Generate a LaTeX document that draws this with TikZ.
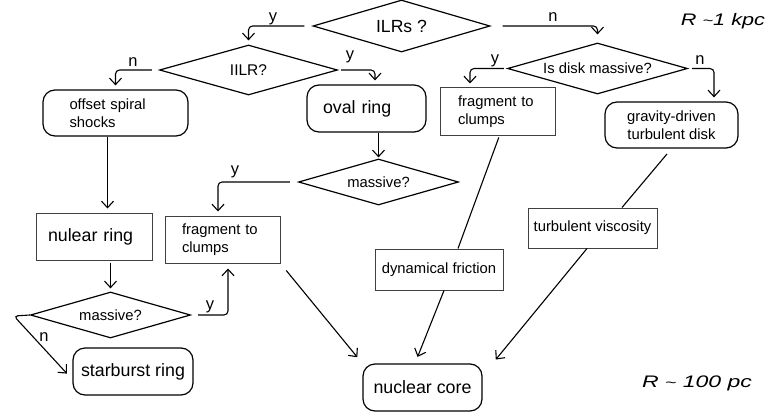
\documentclass[tikz,border=0pt]{standalone}
\usepackage{fontspec}
\setmainfont{Liberation Sans}
\usetikzlibrary{shapes.geometric,arrows.meta,calc}
\begin{document}
\begin{tikzpicture}[x=1pt,y=-1pt,
  line width=1.1pt,
  sm/.style={font=\fontsize{14.8}{17.5}\selectfont},
  bg/.style={font=\fontsize{17.8}{20}\selectfont},
  yn/.style={font=\fontsize{16.5}{18}\selectfont, inner sep=0},
  rl/.style={font=\fontsize{16.7}{18}\selectfont\itshape, inner sep=0},
  dia/.style={diamond, aspect=3.5, draw, inner sep=0, line width=1.2pt},
  rbox/.style={draw, rounded corners=12pt, inner sep=0, line width=1.2pt},
  sbox/.style={draw=black!75, inner sep=0, line width=1pt},
  arr/.style={-{Straight Barb[length=6.5pt,width=12pt]}, shorten >=4pt},
  br/.style={rounded corners=4pt},
]
\useasboundingbox (0,0) rectangle (770,417);

% decisions
\node[dia, minimum width=177pt, minimum height=52pt, font=\fontsize{17.6}{20}\selectfont] (ilrs) at (401.5,26) {ILRs ?};
\node[dia, minimum width=178pt, minimum height=50pt, font=\fontsize{15.5}{18}\selectfont] (iilr) at (248.5,70) {IILR?};
\node[dia, sm, minimum width=180pt, minimum height=51pt] (disk) at (597.5,68.5) {Is disk massive?};
\node[dia, sm, minimum width=160pt, minimum height=46pt] (mass1) at (378.5,182) {massive?};
\node[dia, sm, minimum width=160pt, minimum height=46pt] (mass2) at (110.5,315) {massive?};

% boxes
\node[rbox, sm, minimum width=145pt, minimum height=46pt, text width=92pt, align=left] (offset) at (115.5,113) {offset spiral\\shocks};
\node[rbox, bg, minimum width=119pt, minimum height=47pt, text width=87pt, align=left] (oval) at (366.5,108.5) {oval ring};
\node[sbox, sm, minimum width=115pt, minimum height=47pt, text width=79pt, align=left] (frag2) at (497.5,111.5) {fragment to\\clumps};
\node[rbox, sm, minimum width=133pt, minimum height=46pt, align=center] (grav) at (671.5,125) {gravity-driven\\turbulent disk};
\node[sbox, sm, minimum width=115pt, minimum height=47pt, text width=81pt, align=left] (frag1) at (222.5,239.5) {fragment to\\clumps};
\node[sbox, bg, minimum width=116pt, minimum height=47pt, text width=92pt, align=left] (nulear) at (94,236.5) {nulear ring};
\node[sbox, sm, minimum width=128pt, minimum height=41pt] (dyn) at (439,269.5) {dynamical friction};
\node[sbox, sm, minimum width=129pt, minimum height=40pt] (turb) at (592.5,228) {turbulent viscosity};
\node[rbox, bg, minimum width=120pt, minimum height=47pt] (star) at (133,371.5) {starburst ring};
\node[rbox, bg, minimum width=119pt, minimum height=47pt] (core) at (422.5,387.5) {nuclear core};

% scale labels
\node[rl] (r1) at (723,21) {\scalebox{1.3}[1]{R {\fontsize{14}{14}\selectfont\textasciitilde}1 kpc}};
\node[rl] (r2) at (697,383) {\scalebox{1.38}[1]{R {\fontsize{14}{14}\selectfont\textasciitilde} 100 pc}};

% connectors
\draw[arr, br, shorten <=8pt] (ilrs.west) -| (iilr.north);
\draw[arr, br, shorten <=12pt, shorten >=8pt] (ilrs.east) -| (disk.north);
\draw[arr, br, shorten <=7pt] (iilr.west) -| (offset.north);
\draw[arr, br, shorten <=3pt] (iilr.east) -| ($(oval.north)+(8.5,0)$);
\draw[arr, br, shorten <=3pt] (disk.west) -| ($(frag2.north)+(-27.5,0)$);
\draw[arr, br, shorten <=4pt] (disk.east) -| ($(grav.north)+(42.5,0)$);
\draw[arr, shorten >=1pt] (mass1.north |- oval.south) -- (mass1.north);
\draw[arr, br, shorten <=8pt] (mass1.west) -| ($(frag1.north)+(-4.5,0)$);
\coordinate (c1) at ($(offset.south)+(-8,0)$);
\draw[arr] (c1) -- (c1 |- nulear.north);
\draw[arr, shorten <=2pt, shorten >=3pt] (mass2.north |- nulear.south) -- (mass2.north);
\draw[arr, br, shorten <=7pt, shorten >=5pt] (mass2.east) -| ($(frag1.south)+(5.5,0)$);
\draw[arr, rounded corners=4pt, shorten >=8pt] (mass2.west) -- ($(mass2.west)+(-16,1)$) -- ($(star.west)+(0,8)$);
\draw[arr, shorten <=9pt, shorten >=8pt] (frag1.south east) -- (core.north west);
\draw[shorten <=2pt] ($(frag2.south)+(2,0)$) -- ($(dyn.north)+(19,0)$);
\draw[arr, shorten >=7pt] ($(dyn.south)+(5,0)$) -- ($(core.north)+(-7.5,0)$);
\draw[shorten <=7pt] (grav.south) -- ($(turb.north)+(29.5,0)$);
\draw[arr, shorten >=5pt] ($(turb.south)+(-5.5,0)$) -- ($(core.north east)+(10,0)$);

% branch labels
\node[yn] (ly1) at (273,19) {y};
\node[yn] (ln1) at (553,17.5) {n};
\node[yn] (ln2) at (133,62) {n};
\node[yn] (ly2) at (350,57) {y};
\node[yn] (ly3) at (495,61) {y};
\node[yn] (ln3) at (700,60) {n};
\node[yn] (ly4) at (235,171.5) {y};
\node[yn] (ly5) at (210,306.5) {y};
\node[yn] (ln4) at (44,337) {n};
\end{tikzpicture}
\end{document}
